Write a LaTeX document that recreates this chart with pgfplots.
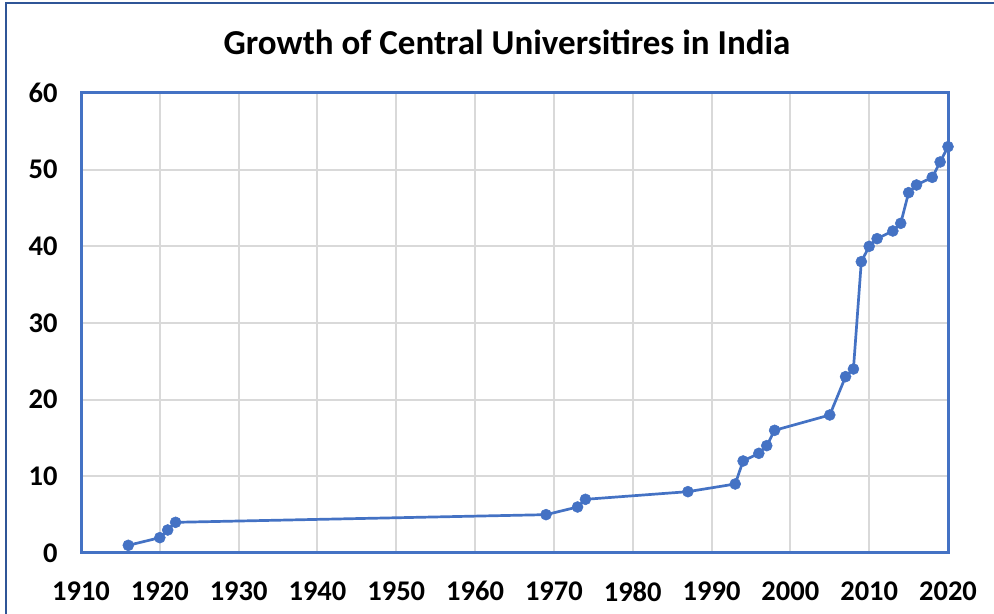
\documentclass[border=0pt]{standalone}
\usepackage{pgfplots}
\pgfplotsset{compat=1.18}
\usepackage{fontspec}
\setmainfont{Carlito}
\definecolor{serblue}{HTML}{4472C4}
\definecolor{framecol}{HTML}{2F5597}
\definecolor{gridcol}{HTML}{D9D9D9}
\begin{document}
\begin{tikzpicture}[x=1bp,y=1bp]
\useasboundingbox (0,0) rectangle (994,614);
\fill[white] (0,0) rectangle (994,614);
\draw[framecol, line width=2bp] (6,-20) -- (6,611) -- (1010,611);
\node[anchor=base, font=\fontsize{35bp}{40bp}\selectfont\bfseries] at (507,559) {Growth of Central Universitires in India};
\begin{axis}[
  at={(81bp,61bp)}, anchor=south west,
  scale only axis, width=867bp, height=460bp,
  xmin=1910, xmax=2020, ymin=0, ymax=60,
  xtick={1910,1920,...,2020}, ytick={0,10,...,60},
  /pgf/number format/assume math mode=true,
  xticklabel style={/pgf/number format/1000 sep={}, font=\fontsize{28.5bp}{33bp}\selectfont\bfseries, yshift=-25bp},
  yticklabel style={font=\fontsize{28.5bp}{33bp}\selectfont\bfseries, xshift=-20bp},
  major tick length=0pt,
  grid=major, major grid style={gridcol, line width=2bp},
  axis line style={serblue, line width=3bp},
  clip=false,
]
\addplot[serblue, line width=2.7bp, mark=*, mark size=5.5bp, mark options={fill=serblue, draw=serblue, line width=0.5bp}] coordinates {
(1916,1) (1920,2) (1921,3) (1922,4) (1969,5) (1973,6) (1974,7) (1987,8)
(1993,9) (1994,12) (1996,13) (1997,14) (1998,16) (2005,18) (2007,23) (2008,24)
(2009,38) (2010,40) (2011,41) (2013,42) (2014,43) (2015,47) (2016,48) (2018,49)
(2019,51) (2020,53)
};
\end{axis}
\end{tikzpicture}
\end{document}
